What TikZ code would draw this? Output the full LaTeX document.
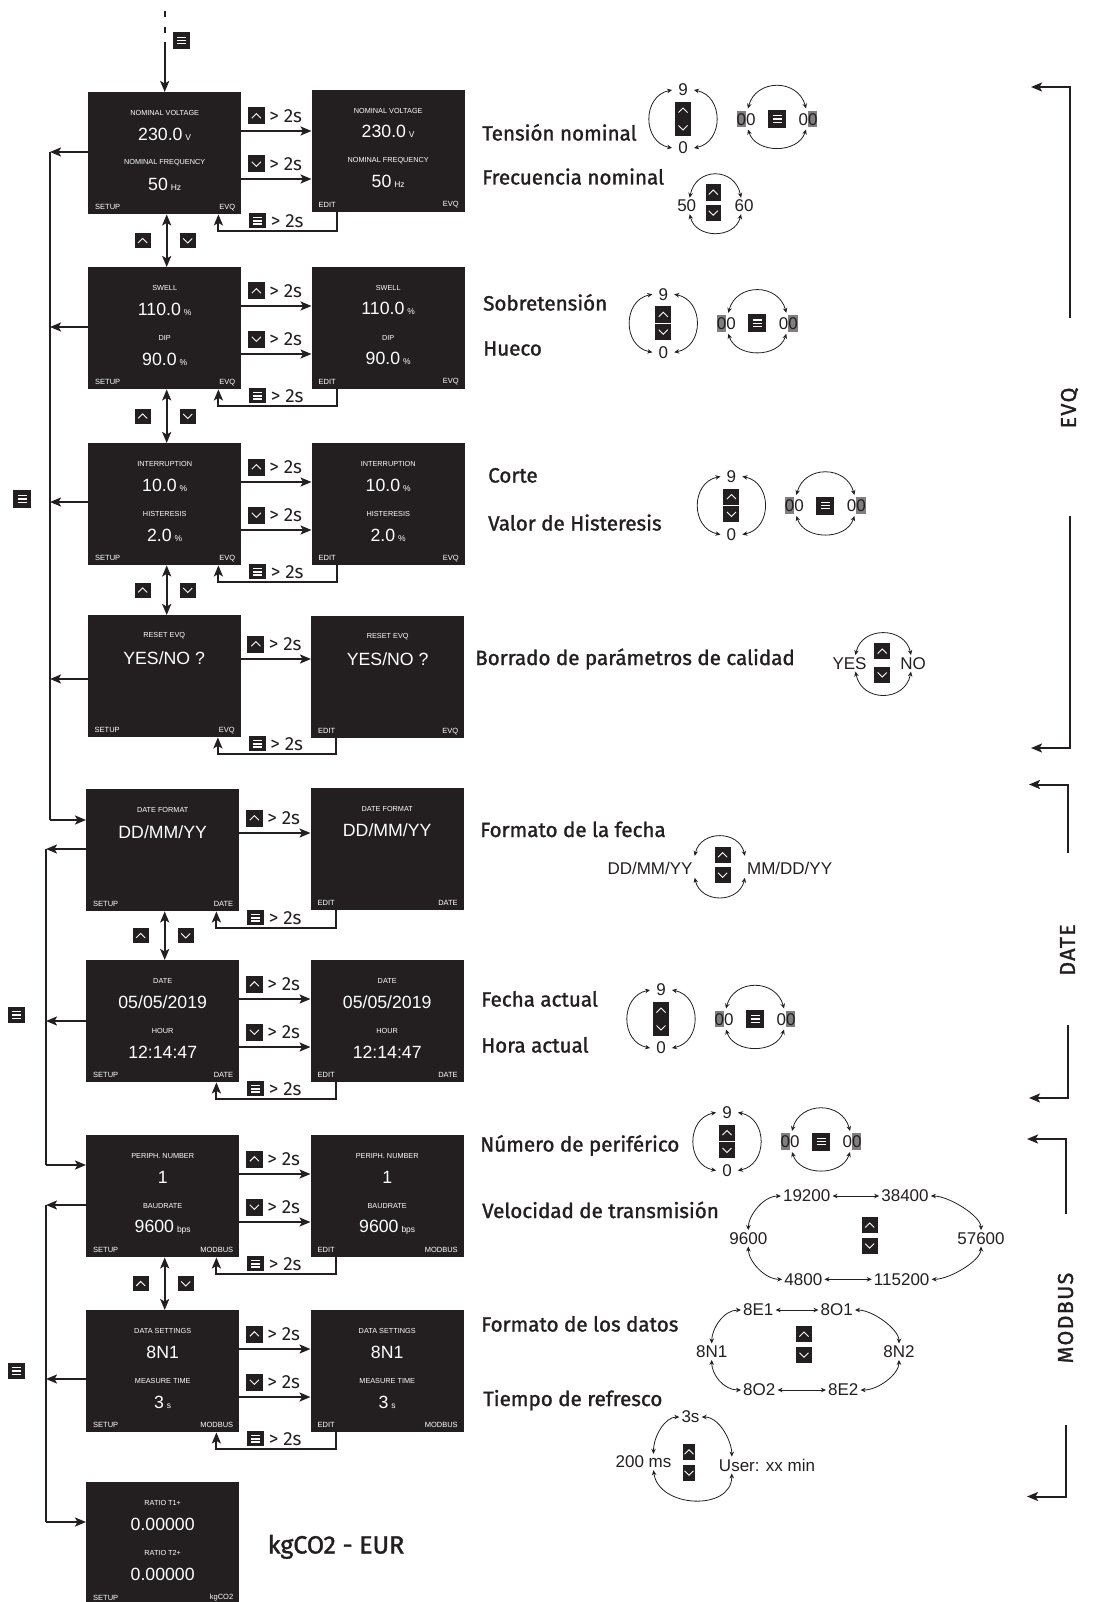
\documentclass[tikz,border=0pt]{standalone}
\usepackage{fontspec}
\setmainfont{Liberation Sans}
\newfontfamily\fira{Fira Sans}
\newfontfamily\firam[FakeBold=1.4]{Fira Sans}
\usetikzlibrary{arrows.meta}
\definecolor{ink}{HTML}{231F20}
\definecolor{hlg}{HTML}{7F7F7F}
\newcommand\fsz[1]{\fontsize{#1}{#1}\selectfont}
\newcommand\unt[1]{\,{\fsz{8.5}#1}}
\newcommand\hlz[1]{{\setlength{\fboxsep}{0pt}\colorbox{hlg}{\rule[-2.2pt]{0pt}{16.6pt}#1}}}
\tikzset{
 scr/.style={fill=ink, draw=none, minimum width=153pt, minimum height=122pt, inner sep=0pt, anchor=north west},
 ttl/.style={text=white, font=\fsz{7.3}, inner sep=0pt},
 val/.style={text=white, font=\fsz{17.7}, inner sep=0pt},
 ft/.style={text=white, font=\fsz{7.5}, inner sep=0pt},
 arr/.style={draw=ink, line width=2pt, -{Stealth[length=11pt,width=9pt,inset=2.5pt]}},
 darr/.style={draw=ink, line width=2pt, {Stealth[length=11pt,width=9pt,inset=2.5pt]}-{Stealth[length=11pt,width=9pt,inset=2.5pt]}},
 bus/.style={draw=ink, line width=2pt},
 gt/.style={font=\fira\fsz{19}, text=ink, inner sep=0pt},
 lab/.style={font=\firam\fsz{20.6}, text=ink, inner sep=0pt, anchor=base west},
 side/.style={font=\firam\fsz{21.5}\addfontfeature{LetterSpace=6}, text=ink, inner sep=0pt, rotate=90},
 cy/.style={font=\fsz{17}, text=ink, inner sep=2pt},
 cyc/.style={draw=ink, line width=0.8pt, {Stealth[length=5pt,width=4.5pt]}-{Stealth[length=5pt,width=4.5pt]}},
 ibox/.style={fill=ink, inner sep=0pt, minimum width=16pt, minimum height=16pt},
 upb/.style={ibox, path picture={\draw[white, line width=0.9pt]
   ([xshift=-4.5pt,yshift=-2.2pt]path picture bounding box.center) --
   ([yshift=2.3pt]path picture bounding box.center) --
   ([xshift=4.5pt,yshift=-2.2pt]path picture bounding box.center);}},
 dnb/.style={ibox, path picture={\draw[white, line width=0.9pt]
   ([xshift=-4.5pt,yshift=2.2pt]path picture bounding box.center) --
   ([yshift=-2.3pt]path picture bounding box.center) --
   ([xshift=4.5pt,yshift=2.2pt]path picture bounding box.center);}},
 mnb/.style={ibox, path picture={\foreach \k in {-3.2,0,3.2}{\draw[white, line width=1.3pt]
   ([xshift=-4.5pt,yshift=\k pt]path picture bounding box.center) --
   ([xshift=4.5pt,yshift=\k pt]path picture bounding box.center);}}},
}
% screen with two values: name, x, y, t1, v1, t2, v2, footer left, footer right
\newcommand\ScrTwo[9]{%
 \node[scr] (#1) at (#2,#3) {};
 \node[ttl] (#1-a) at ([yshift=-21pt]#1.north) {#4};
 \node[val] (#1-b) at ([yshift=-42pt]#1.north) {#5};
 \node[ttl] (#1-c) at ([yshift=-71pt]#1.north) {#6};
 \node[val] (#1-d) at ([yshift=-92pt]#1.north) {#7};
 \node[ft, anchor=west] (#1-e) at ([xshift=7pt,yshift=7pt]#1.south west) {#8};
 \node[ft, anchor=east] (#1-f) at ([xshift=-6pt,yshift=7pt]#1.south east) {#9};}
\newcommand\ScrOne[7]{%
 \node[scr] (#1) at (#2,#3) {};
 \node[ttl] (#1-a) at ([yshift=-21pt]#1.north) {#4};
 \node[val] (#1-b) at ([yshift=-43pt]#1.north) {#5};
 \node[ft, anchor=west] (#1-e) at ([xshift=7pt,yshift=7pt]#1.south west) {#6};
 \node[ft, anchor=east] (#1-f) at ([xshift=-6pt,yshift=7pt]#1.south east) {#7};}
% horizontal arrow: name, left, right, dy, icon style
\newcommand\HArr[5]{%
 \coordinate (#1s) at ([yshift=-#4pt]#2.north east);
 \draw[arr] (#1s) -- (#1s -| #3.west);
 \node[#5, minimum width=17pt, minimum height=17pt] (#1i) at ([xshift=15pt,yshift=15pt]#1s) {};
 \node[gt, anchor=west] (#1t) at ([xshift=4pt,yshift=-0.5pt]#1i.east) {>\kern5pt2s};}
% return arrow: name, left, right
\newcommand\RArr[3]{%
 \coordinate (#1a) at ([xshift=25pt]#3.south west);
 \coordinate (#1b) at ([xshift=-23pt,yshift=-17pt]#2.south east);
 \draw[arr] (#1a) |- (#1b) -- (#1b |- #2.south);
 \node[mnb, minimum width=17pt, minimum height=15pt] (#1i) at ([xshift=39.5pt,yshift=10.5pt]#1b) {};
 \node[gt, anchor=west] (#1t) at ([xshift=4pt,yshift=-0.5pt]#1i.east) {>\kern5pt2s};}
% vertical double arrow: name, upper, lower
\newcommand\VArr[3]{%
 \coordinate (#1p) at ([xshift=2pt]#2.south);
 \draw[darr] (#1p) -- (#1p |- #3.north);
 \path (#1p) -- (#1p |- #3.north)
   node[pos=.5, upb, minimum height=15pt, xshift=-24pt] (#1u) {}
   node[pos=.5, dnb, minimum height=15pt, xshift=21pt] (#1d) {};}
% digit cycle: name, cx, cy
\newcommand\DigCyc[3]{%
 \node[cy] (#1n) at (#2,{#3-29}) {9};
 \node[cy] (#1z) at (#2,{#3+29}) {0};
 \node[upb, minimum height=16.5pt] (#1u) at (#2,{#3-8.7}) {};
 \node[dnb, minimum height=16.5pt] (#1d) at (#2,{#3+8.7}) {};
 \draw[cyc] ([xshift=-4pt]#1n.west) .. controls +(-30,6) and +(-30,-6) .. ([xshift=-4pt]#1z.west);
 \draw[cyc] ([xshift=4pt]#1n.east) .. controls +(30,6) and +(30,-6) .. ([xshift=4pt]#1z.east);}
% 00 / menu / 00 cycle: name, cx (of digit cycle), cy
\newcommand\ZeroCyc[3]{%
 \node[cy] (#1a) at ({#2+63},#3) {\hlz{0}0};
 \node[mnb, minimum width=18pt, minimum height=18pt] (#1m) at ({#2+94},#3) {};
 \node[cy] (#1b) at ({#2+125},#3) {0\hlz{0}};
 \draw[cyc] ([xshift=2pt]#1a.north) .. controls +(8,-30) and +(-8,-30) .. ([xshift=-2pt]#1b.north);
 \draw[cyc] ([xshift=2pt]#1a.south) .. controls +(8,24.5) and +(-8,24.5) .. ([xshift=-2pt]#1b.south);}

\begin{document}
\begin{tikzpicture}[x=1pt,y=-1pt]
\useasboundingbox (0,0) rectangle (1093,1602);
\fill[white] (0,0) rectangle (1093,1602);

% ---------- screens ----------
\ScrTwo{s1L}{88}{92}{NOMINAL VOLTAGE}{230.0\unt{V}}{NOMINAL FREQUENCY}{50\unt{Hz}}{SETUP}{EVQ}
\ScrTwo{s1R}{311.5}{89.5}{NOMINAL VOLTAGE}{230.0\unt{V}}{NOMINAL FREQUENCY}{50\unt{Hz}}{EDIT}{EVQ}
\ScrTwo{s2L}{88}{267}{SWELL}{110.0\unt{\%}}{DIP}{90.0\unt{\%}}{SETUP}{EVQ}
\ScrTwo{s2R}{311.5}{266.5}{SWELL}{110.0\unt{\%}}{DIP}{90.0\unt{\%}}{EDIT}{EVQ}
\ScrTwo{s3L}{88}{443}{INTERRUPTION}{10.0\unt{\%}}{HISTERESIS}{2.0\unt{\%}}{SETUP}{EVQ}
\ScrTwo{s3R}{311.5}{443}{INTERRUPTION}{10.0\unt{\%}}{HISTERESIS}{2.0\unt{\%}}{EDIT}{EVQ}
\ScrOne{s4L}{87.5}{615}{RESET EVQ}{YES/NO ?}{SETUP}{EVQ}
\ScrOne{s4R}{311}{616}{RESET EVQ}{YES/NO ?}{EDIT}{EVQ}
\ScrOne{s5L}{86}{789}{DATE FORMAT}{DD/MM/YY}{SETUP}{DATE}
\ScrOne{s5R}{310.5}{787.5}{DATE FORMAT}{DD/MM/YY}{EDIT}{DATE}
\ScrTwo{s6L}{86}{960}{DATE}{05/05/2019}{HOUR}{12:14:47}{SETUP}{DATE}
\ScrTwo{s6R}{310.5}{960}{DATE}{05/05/2019}{HOUR}{12:14:47}{EDIT}{DATE}
\ScrTwo{s7L}{86}{1135}{PERIPH. NUMBER}{1}{BAUDRATE}{9600\unt{bps}}{SETUP}{MODBUS}
\ScrTwo{s7R}{310.5}{1135}{PERIPH. NUMBER}{1}{BAUDRATE}{9600\unt{bps}}{EDIT}{MODBUS}
\ScrTwo{s8L}{86}{1310}{DATA SETTINGS}{8N1}{MEASURE TIME}{3\unt{s}}{SETUP}{MODBUS}
\ScrTwo{s8R}{310.5}{1310}{DATA SETTINGS}{8N1}{MEASURE TIME}{3\unt{s}}{EDIT}{MODBUS}
\ScrTwo{s9L}{86}{1482}{RATIO T1+}{0.00000}{RATIO T2+}{0.00000}{SETUP}{kgCO2}

% ---------- entry ----------
\coordinate (top0) at (s1L.north |- 0,11);
\coordinate (top1) at (s1L.north |- 0,42);
\draw[bus, dash pattern=on 6pt off 10pt] (top0) -- (top1);
\draw[arr] (top1) -- (s1L.north);
\node[mnb, minimum width=17pt, minimum height=17.5pt] (topm) at (181.5,40.5) {};

% ---------- horizontal arrows ----------
\HArr{h1u}{s1L}{s1R}{39}{upb}
\HArr{h1d}{s1L}{s1R}{87}{dnb}
\RArr{r1}{s1L}{s1R}
\HArr{h2u}{s2L}{s2R}{39}{upb}
\HArr{h2d}{s2L}{s2R}{87}{dnb}
\RArr{r2}{s2L}{s2R}
\HArr{h3u}{s3L}{s3R}{39}{upb}
\HArr{h3d}{s3L}{s3R}{87}{dnb}
\RArr{r3}{s3L}{s3R}
\HArr{h4u}{s4L}{s4R}{44}{upb}
\RArr{r4}{s4L}{s4R}
\HArr{h5u}{s5L}{s5R}{44}{upb}
\RArr{r5}{s5L}{s5R}
\HArr{h6u}{s6L}{s6R}{39}{upb}
\HArr{h6d}{s6L}{s6R}{87}{dnb}
\RArr{r6}{s6L}{s6R}
\HArr{h7u}{s7L}{s7R}{39}{upb}
\HArr{h7d}{s7L}{s7R}{87}{dnb}
\RArr{r7}{s7L}{s7R}
\HArr{h8u}{s8L}{s8R}{39}{upb}
\HArr{h8d}{s8L}{s8R}{87}{dnb}
\RArr{r8}{s8L}{s8R}

% ---------- vertical arrows ----------
\VArr{v12}{s1L}{s2L}
\VArr{v23}{s2L}{s3L}
\VArr{v34}{s3L}{s4L}
\VArr{v56}{s5L}{s6L}
\VArr{v78}{s7L}{s8L}

% ---------- left bus ----------
\coordinate (bx1) at (50,0);
\coordinate (bx2) at (46,0);
\coordinate (o1) at ([yshift=-60pt]s1L.north west);
\coordinate (o2) at ([yshift=-60pt]s2L.north west);
\coordinate (o3) at ([yshift=-59pt]s3L.north west);
\coordinate (o4) at ([yshift=-64pt]s4L.north west);
\coordinate (i5) at ([yshift=-31pt]s5L.north west);
\coordinate (o5) at ([yshift=-60pt]s5L.north west);
\coordinate (o6) at ([yshift=-61pt]s6L.north west);
\coordinate (i7) at ([yshift=-30pt]s7L.north west);
\coordinate (o7) at ([yshift=-70pt]s7L.north west);
\coordinate (o8) at ([yshift=-69pt]s8L.north west);
\coordinate (i9) at ([yshift=-40pt]s9L.north west);
\draw[bus] (bx1 |- o1) -- (bx1 |- i5);
\draw[bus] (bx2 |- o5) -- (bx2 |- i7);
\draw[bus] (bx2 |- o7) -- (bx2 |- i9);
\foreach \p in {o1,o2,o3,o4}{\draw[arr] (\p) -- (bx1 |- \p);}
\foreach \p in {o5,o6,o7,o8}{\draw[arr] (\p) -- (bx2 |- \p);}
\draw[arr] (bx1 |- i5) -- (i5);
\draw[arr] (bx2 |- i7) -- (i7);
\draw[arr] (bx2 |- i9) -- (i9);
\node[mnb, minimum width=17.5pt, minimum height=17.5pt] (bm1) at (22,499) {};
\node[mnb, minimum width=17pt, minimum height=16pt] (bm2) at (16.5,1015) {};
\node[mnb, minimum width=17pt, minimum height=16pt] (bm3) at (16.5,1371) {};

% ---------- right brackets ----------
\coordinate (e1b) at (1069.5,318);
\coordinate (e1c) at (1069.5,87);
\coordinate (e1t) at (1031,87);
\draw[arr] (e1b) -- (e1c) -- (e1t);
\node[side] (evq) at (1069.5,408) {EVQ};
\coordinate (e2a) at (1069.5,516);
\coordinate (e2c) at (1069.5,748);
\coordinate (e2t) at (1031,748);
\draw[arr] (e2a) -- (e2c) -- (e2t);
\coordinate (d1b) at (1067.5,853);
\coordinate (d1c) at (1067.5,784.5);
\coordinate (d1t) at (1029,784.5);
\draw[arr] (d1b) -- (d1c) -- (d1t);
\node[side] (date) at (1067.5,950) {DATE};
\coordinate (d2a) at (1067.5,1025);
\coordinate (d2c) at (1067.5,1098);
\coordinate (d2t) at (1029,1098);
\draw[arr] (d2a) -- (d2c) -- (d2t);
\coordinate (m1b) at (1065.5,1213.5);
\coordinate (m1c) at (1065.5,1139);
\coordinate (m1t) at (1027,1139);
\draw[arr] (m1b) -- (m1c) -- (m1t);
\node[side] (modbus) at (1065.5,1318) {MODBUS};
\coordinate (m2a) at (1065.5,1425);
\coordinate (m2c) at (1065.5,1496.5);
\coordinate (m2t) at (1027,1496.5);
\draw[arr] (m2a) -- (m2c) -- (m2t);

% ---------- labels ----------
\node[lab] (l1) at (482,140.5) {Tensión nominal};
\node[lab] (l2) at (482,184.5) {Frecuencia nominal};
\node[lab] (l3) at (483,310.5) {Sobretensión};
\node[lab] (l4) at (483,355.5) {Hueco};
\node[lab] (l5) at (488,482.5) {Corte};
\node[lab] (l6) at (488,530.5) {Valor de Histeresis};
\node[lab] (l7) at (475,665) {Borrado de parámetros de calidad};
\node[lab] (l8) at (480,837) {Formato de la fecha};
\node[lab] (l9) at (481,1006.5) {Fecha actual};
\node[lab] (l10) at (481,1052.5) {Hora actual};
\node[lab] (l11) at (480,1151.5) {Número de periférico};
\node[lab] (l12) at (482,1218) {Velocidad de transmisión};
\node[lab] (l13) at (481,1331.5) {Formato de los datos};
\node[lab] (l14) at (483,1406) {Tiempo de refresco};
\node[lab, font=\firam\fsz{25}] (l15) at (267.5,1553.5) {kgCO2 - EUR};

% ---------- digit cycles ----------
\DigCyc{c1}{683}{119}
\ZeroCyc{z1}{683}{119}
\DigCyc{c2}{663.3}{323.3}
\ZeroCyc{z2}{663.3}{323.3}
\DigCyc{c3}{731.4}{505.5}
\ZeroCyc{z3}{731.4}{505.5}
\DigCyc{c6}{661}{1019}
\ZeroCyc{z6}{661}{1019}
\DigCyc{c7}{727}{1141.5}
\ZeroCyc{z7}{727}{1141.5}

% 50 / 60
\node[cy] (f50) at (686.7,206) {50};
\node[cy] (f60) at (744,206) {60};
\node[upb, minimum width=15.5pt, minimum height=16.5pt] (fu) at (713.3,192.3) {};
\node[dnb, minimum width=15.5pt, minimum height=16.5pt] (fd) at (713.3,213) {};
\draw[cyc] ([xshift=3pt]f50.north) .. controls +(6,-31) and +(-6,-31) .. ([xshift=-3pt]f60.north);
\draw[cyc] ([xshift=3pt]f50.south) .. controls +(6,25) and +(-6,25) .. ([xshift=-3pt]f60.south);

% YES / NO
\node[cy] (yes) at (849.5,663.3) {YES};
\node[cy] (no) at (913,663.3) {NO};
\node[upb, minimum width=15.7pt] (yu) at (882.2,651.3) {};
\node[dnb, minimum width=15.7pt] (yd) at (882.2,674.7) {};
\draw[cyc] ([xshift=6pt]yes.north) .. controls +(6,-29) and +(-6,-29) .. ([xshift=-2pt]no.north);
\draw[cyc] ([xshift=6pt]yes.south) .. controls +(6,31) and +(-6,31) .. ([xshift=-2pt]no.south);

% DD/MM/YY
\node[cy] (ddf) at (650,868.3) {DD/MM/YY};
\node[cy] (mmf) at (789.6,868.3) {MM/DD/YY};
\node[upb] (du) at (722.6,855) {};
\node[dnb] (dd) at (722.6,875) {};
\draw[cyc] ([yshift=4pt]ddf.north east) .. controls +(6,-26) and +(-6,-26) .. ([yshift=4pt]mmf.north west);
\draw[cyc] ([yshift=-1pt]ddf.south east) .. controls +(6,26) and +(-6,26) .. ([yshift=-1pt]mmf.south west);

% baud rate
\node[cy] (b19) at (806.7,1196) {19200};
\node[cy] (b38) at (905,1196) {38400};
\node[cy] (b96) at (748.3,1238.3) {9600};
\node[cy] (b57) at (981,1238.3) {57600};
\node[cy] (b48) at (803.3,1279.3) {4800};
\node[cy] (b115) at (901.7,1279.3) {115200};
\node[upb] (bu) at (869.7,1225.3) {};
\node[dnb] (bd) at (869.7,1245.8) {};
\draw[cyc] (b19) -- (b38);
\draw[cyc] (b48) -- (b115);
\draw[cyc] (b19.west) .. controls +(-18,0) and +(0,-14) .. (b96.north);
\draw[cyc] (b38.east) .. controls +(18,0) and +(0,-14) .. (b57.north);
\draw[cyc] (b96.south) .. controls +(0,14) and +(-18,0) .. (b48.west);
\draw[cyc] (b115.east) .. controls +(18,0) and +(0,14) .. (b57.south);

% data settings
\node[cy] (d81) at (758.3,1310) {8E1};
\node[cy] (d82) at (836.7,1310) {8O1};
\node[cy] (dn1) at (711.7,1351.7) {8N1};
\node[cy] (dn2) at (899,1351.7) {8N2};
\node[cy] (do2) at (759.3,1390) {8O2};
\node[cy] (de2) at (843.3,1390) {8E2};
\node[upb] (xu) at (804,1334.3) {};
\node[dnb] (xd) at (804,1355) {};
\draw[cyc] (d81) -- (d82);
\draw[cyc] (do2) -- (de2);
\draw[cyc] (d81.west) .. controls +(-18,0) and +(0,-14) .. (dn1.north);
\draw[cyc] (d82.east) .. controls +(18,0) and +(0,-14) .. (dn2.north);
\draw[cyc] (dn1.south) .. controls +(0,14) and +(-18,0) .. (do2.west);
\draw[cyc] (de2.east) .. controls +(18,0) and +(0,14) .. (dn2.south);

% refresh time
\node[cy] (t3) at (690.5,1417) {3s};
\node[cy] (t200) at (643.5,1462) {200 ms};
\node[cy] (tus) at (767,1465) {User: xx min};
\node[upb, minimum width=12.5pt] (tu) at (689,1452) {};
\node[dnb, minimum width=12.5pt] (td) at (689,1473) {};
\draw[cyc] (t3.east) .. controls +(18,0) and +(0,-15) .. ([xshift=15pt]tus.north west);
\draw[cyc] ([xshift=10pt]t200.north) .. controls +(0,-18) and +(-14,0) .. (t3.west);
\draw[cyc] ([xshift=10pt]t200.south) .. controls +(5,38) and +(0,38) .. ([xshift=15pt]tus.south west);
\end{tikzpicture}
\end{document}
